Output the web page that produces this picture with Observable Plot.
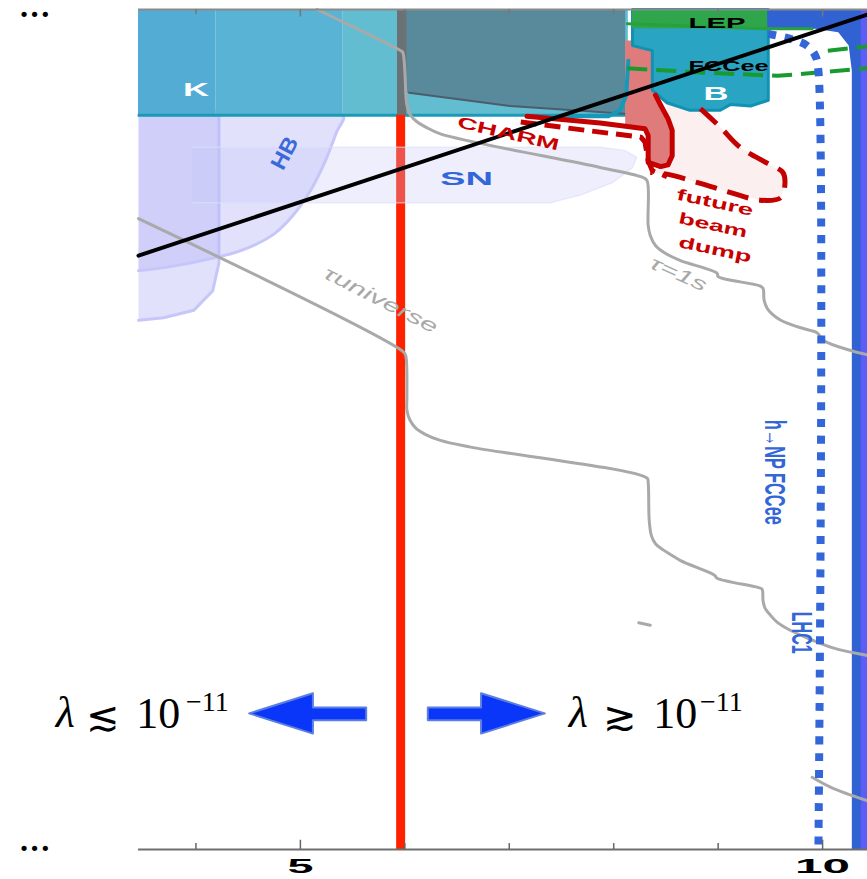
<!DOCTYPE html>
<html><head><meta charset="utf-8">
<script src="https://cdn.jsdelivr.net/npm/d3@7"></script>
<script src="https://cdn.jsdelivr.net/npm/@observablehq/plot@0.6"></script>
<style>body{margin:0;background:#fff}</style>
</head><body><div id="chart"></div>
<script>
// ---------- data (x: mass axis, y: arbitrary log-coupling units 0..10) ----------
const majorTicks = [5, 10];
const minorTicks = [4, 6, 7, 8, 9];
const yDots = [0, 9.93];

const hbStrip = [[3.45,8.74],[4.22,8.74],[4.22,6.98],[4.16,6.65],[3.98,6.42],[3.69,6.33],[3.45,6.30]];
const hbCurve = [[3.45,8.74],[5.41,8.74],[5.35,8.55],[5.24,8.20],[5.10,7.85],[4.93,7.55],[4.74,7.32],[4.43,7.13],[3.85,6.96],[3.45,6.89]];
const snRegion = [[3.97,8.36],[7.87,8.36],[8.11,8.32],[8.22,8.24],[8.18,8.12],[7.99,7.94],[7.68,7.79],[7.39,7.70],[3.97,7.70]];
const kBandX = [3.45, 4.19, 5.41, 8.14];
const kBandY = [8.74, 10];
const slate = [[5.98,10],[8.11,10],[8.11,8.76],[7.01,8.85],[6.04,9.01],[5.98,9.01]];
const slateEdge = [[6.04,9.01],[7.01,8.85],[8.11,8.76]];
const grayBarX = [5.93, 6.02];
const pinkRegion = [[8.11,9.63],[8.40,9.63],[8.40,8.98],[8.45,8.86],[8.52,8.70],[8.56,8.56],[8.56,8.26],[8.52,8.15],[8.45,8.13],[8.33,8.18],[8.33,8.50],[8.30,8.58],[8.11,8.61]];
const beamDump = [[8.50,8.92],[8.83,8.82],[9.02,8.60],[9.21,8.36],[9.47,8.17],[9.62,8.06],[9.64,7.94],[9.60,7.76],[9.40,7.73],[9.12,7.82],[8.83,7.93],[8.51,8.04],[8.35,8.06]];
const beamDumpInner = [[8.45,8.13],[8.52,8.15],[8.56,8.26],[8.56,8.56],[8.52,8.70]];
const charmSolid = [[7.17,8.73],[7.87,8.65],[8.30,8.58],[8.33,8.50],[8.33,8.18],[8.45,8.13],[8.52,8.15],[8.56,8.26],[8.56,8.56],[8.52,8.70],[8.45,8.86],[8.40,8.98]];
const charmDashed = [[7.11,8.66],[7.87,8.54],[8.26,8.48],[8.30,8.42],[8.33,8.20],[8.37,8.08],[8.51,8.01]];
const bRegion = [[8.18,10],[9.48,10],[9.48,8.92],[9.31,8.85],[9.12,8.87],[9.02,8.80],[8.73,8.80],[8.51,8.89],[8.37,9.04],[8.37,9.51],[8.18,9.57]];
const tealCurve = [[8.14,9.39],[8.12,8.98],[8.06,8.80],[7.95,8.73],[7.49,8.73]];
const lepBox = {x: [8.18, 9.48], y: [9.77, 10]};
const lepLine = [[8.13,9.83],[9.48,9.77],[9.90,9.77]];
const fccDash = [[8.13,9.30],[8.83,9.25],[9.57,9.21],[9.95,9.25],[10.43,9.30]];
const fccDash2 = [[10.05,9.51],[10.43,9.56]];
const blueRegion = [[9.47,10],[10.43,10],[10.43,0],[10.28,0],[10.28,9.27],[10.25,9.57],[10.15,9.73],[9.93,9.77],[9.47,9.77]];
const purpleStripX = [10.37, 10.43];
const lhcDotted = [[9.48,9.71],[9.69,9.65],[9.85,9.57],[9.93,9.45],[9.96,9.27],[9.96,0]];
const blackLine = [[3.45,7.07],[10.43,9.94]];
const redLine = {x: 5.96, y: [0, 8.74]};
const tauUniverse = [[3.45,7.51],[5.99,5.92],[6.01,5.87],[6.02,5.40],[6.02,5.23],[6.05,5.11],[6.11,5.01],[6.20,4.94],[6.34,4.87],[6.63,4.79],[8.32,4.42],[8.33,4.37],[8.34,3.92],[8.36,3.74],[8.40,3.64],[8.47,3.57],[8.56,3.50],[8.64,3.44],[8.93,3.29],[8.97,3.26],[8.99,3.23],[9.38,3.12],[9.42,3.10],[9.43,2.96],[9.45,2.87],[9.50,2.79],[9.57,2.70],[9.69,2.61],[9.85,2.52],[10.10,2.40],[10.43,2.31]];
const tau1s = [[5.16,10],[5.96,9.51],[5.98,9.49],[6.00,9.27],[6.01,8.98],[6.02,8.86],[6.05,8.75],[6.11,8.67],[6.20,8.60],[6.34,8.52],[7.87,8.12],[8.28,8.00],[8.32,7.96],[8.33,7.43],[8.35,7.31],[8.40,7.19],[8.49,7.10],[8.64,7.01],[8.99,6.86],[9.00,6.82],[9.40,6.71],[9.43,6.68],[9.44,6.54],[9.47,6.44],[9.52,6.37],[9.60,6.30],[9.74,6.23],[9.88,6.18],[9.95,6.15],[10.01,6.06],[10.27,5.94],[10.43,5.89]];
const tau3 = [[9.90,0.86],[10.08,0.74],[10.43,0.58]];
const tauFrag = [[8.24,2.70],[8.35,2.67]];
const leftArrow = [[4.51,1.62],[5.12,1.86],[5.12,1.69],[5.63,1.69],[5.63,1.54],[5.12,1.54],[5.12,1.38],[4.51,1.62]];
const rightArrow = [[7.34,1.62],[6.73,1.86],[6.73,1.69],[6.22,1.69],[6.22,1.54],[6.73,1.54],[6.73,1.38],[7.34,1.62]];

const labelText = ["K","HB","SN","CHARM","future","beam","dump","τ=1s","τuniverse","h→NP FCCee","LHC1","LEP","FCCee","B"];
const labelX =    [4.00, 4.85, 6.59, 6.99, 8.97, 8.95, 8.97, 8.62, 5.77, 9.54, 9.80, 8.99, 9.10, 8.98];
const labelY =    [9.04, 8.29, 7.98, 8.52, 7.70, 7.43, 7.14, 6.85, 6.54, 4.49, 2.58, 9.83, 9.32, 9.00];
const lambdaParts = ["λ", "≲", "10", "−11", "λ", "≳", "10", "−11"];
const lambdaX = [2.75, 3.11, 3.64, 4.11, 7.66, 8.06, 8.59, 9.03];
const lambdaY = [1.63, 1.57, 1.62, 1.75, 1.63, 1.57, 1.62, 1.75];

// ---------- helpers ----------
const P = (pts, o) => Plot.line(pts, {x: d => d[0], y: d => d[1], ...o});
const closed = pts => [...pts, pts[0]];
const lbl = (i, o) => Plot.text([i], {x: d => labelX[d], y: d => labelY[d], text: d => labelText[d],
  fontFamily: "Liberation Sans, Arial, sans-serif", fontWeight: "bold", textAnchor: "middle", lineAnchor: "middle", ...o});
const lam = (i, o) => Plot.text([i], {x: d => lambdaX[d], y: d => lambdaY[d], text: d => lambdaParts[d],
  fontFamily: "Liberation Serif, Times New Roman, serif", textAnchor: "middle", lineAnchor: "middle", fill: "#000", ...o});

const chart = Plot.plot({
  width: 867, height: 879,
  marginLeft: 138, marginRight: 0, marginTop: 9, marginBottom: 30,
  x: {domain: [3.45, 10.43]},
  y: {domain: [0, 10]},
  style: {background: "#fff", overflow: "visible"},
  marks: [
    // HB
    P(hbStrip, {fill: "#b4b4f8", fillOpacity: 0.4, stroke: "#c6c6fa", strokeWidth: 3}),
    P(hbCurve, {fill: "#b4b4f8", fillOpacity: 0.4, stroke: "#c6c6fa", strokeWidth: 3, curve: "catmull-rom"}),
    // K band
    Plot.rect([0], {x1: kBandX[0], x2: kBandX[1], y1: kBandY[0], y2: kBandY[1], fill: "#52acd3"}),
    Plot.rect([0], {x1: kBandX[1], x2: kBandX[2], y1: kBandY[0], y2: kBandY[1], fill: "#58b3d5"}),
    Plot.rect([0], {x1: kBandX[2], x2: kBandX[3], y1: kBandY[0], y2: kBandY[1], fill: "#63bdd0"}),
    Plot.ruleY([kBandY[0]], {x1: kBandX[0], x2: kBandX[3], stroke: "#1a9ab6", strokeWidth: 3}),
    // slate
    P(slate, {fill: "#588a9b"}),
    P(slateEdge, {stroke: "#4c5c6c", strokeWidth: 2}),
    Plot.rect([0], {x1: grayBarX[0], x2: grayBarX[1], y1: kBandY[0], y2: kBandY[1], fill: "#6a7276"}),
    // CHARM / beam dump fills
    P([...beamDump, ...beamDumpInner], {fill: "#fcefef"}),
    P(pinkRegion, {fill: "#e07b7b"}),
    // B and LEP
    P(closed(bRegion), {fill: "#29a4c3", stroke: "#1292b3", strokeWidth: 3}),
    Plot.rect([0], {x1: lepBox.x[0], x2: lepBox.x[1], y1: lepBox.y[0], y2: lepBox.y[1], fill: "#2fa64b"}),
    // blue right region
    P(blueRegion, {fill: "#3162d2"}),
    Plot.rect([0], {x1: purpleStripX[0], x2: purpleStripX[1], y1: 0, y2: 10, fill: "#5c5cf6"}),
    // red line
    Plot.ruleX([redLine.x], {y1: redLine.y[0], y2: redLine.y[1], stroke: "#ff2200", strokeWidth: 9}),
    // SN
    P(snRegion, {fill: "#c8c8f8", fillOpacity: 0.3, stroke: "#dedefa", strokeWidth: 1.5, strokeOpacity: 0.6}),
    // gray lifetime lines
    P(tauUniverse, {stroke: "#a9a9a9", strokeWidth: 3, curve: "catmull-rom"}),
    P(tau1s, {stroke: "#a9a9a9", strokeWidth: 3, curve: "catmull-rom"}),
    P(tau3, {stroke: "#a9a9a9", strokeWidth: 3, curve: "catmull-rom"}),
    P(tauFrag, {stroke: "#a9a9a9", strokeWidth: 3}),
    // CHARM lines
    P(tealCurve, {stroke: "#1599b8", strokeWidth: 4}),
    P(charmSolid, {stroke: "#c40000", strokeWidth: 5, strokeLinejoin: "round"}),
    P(charmDashed, {stroke: "#c40000", strokeWidth: 5, strokeDasharray: "16,8", strokeLinecap: "butt"}),
    P(beamDump.slice(1), {stroke: "#c40000", strokeWidth: 5, strokeDasharray: "22,11", strokeLinecap: "butt", curve: "catmull-rom"}),
    // green lines
    P(lepLine, {stroke: "#27a03e", strokeWidth: 3}),
    P(fccDash, {stroke: "#179a2e", strokeWidth: 4, strokeDasharray: "20,9", strokeLinecap: "butt"}),
    P(fccDash2, {stroke: "#179a2e", strokeWidth: 4, strokeDasharray: "20,9", strokeLinecap: "butt"}),
    // dotted blue line
    P(lhcDotted, {stroke: "#3366d8", strokeWidth: 8, strokeDasharray: "8,8.7", strokeLinecap: "butt", curve: "catmull-rom"}),
    // black line
    P(blackLine, {stroke: "#000", strokeWidth: 4}),
    // arrows
    P(leftArrow, {fill: "#0a36fa", stroke: "#5b7ee0", strokeWidth: 2}),
    P(rightArrow, {fill: "#0a36fa", stroke: "#5b7ee0", strokeWidth: 2}),
    // frame / axes
    Plot.ruleY([0], {stroke: "#6e6e6e", strokeWidth: 2}),
    Plot.ruleY([10], {stroke: "#8a8a8a", strokeWidth: 2}),
    Plot.ruleX(minorTicks, {y1: 0, y2: 0.07, stroke: "#666", strokeWidth: 1.5}),
    Plot.ruleX(majorTicks, {y1: 0, y2: 0.11, stroke: "#666", strokeWidth: 1.5}),
    Plot.ruleX(minorTicks, {y1: 9.94, y2: 10, stroke: "#777", strokeWidth: 1.5}),
    Plot.ruleX(majorTicks, {y1: 9.91, y2: 10, stroke: "#777", strokeWidth: 1.5}),
    Plot.axisX({ticks: majorTicks, tickSize: 0, tickPadding: 9, fontSize: 21, fontWeight: "bold",
      fontFamily: "Liberation Sans, Arial, sans-serif", tickFormat: d => String(d)}),
    Plot.axisY({ticks: yDots, tickSize: 0, tickPadding: 88, fontSize: 18, fontFamily: "DejaVu Sans",
      tickFormat: () => "•••"}),
    // labels
    lbl(0, {fill: "#fff", fontSize: 18}),
    lbl(1, {fill: "#3a6ad8", fontSize: 22, rotate: -62}),
    lbl(2, {fill: "#3366d6", fontSize: 18}),
    lbl(3, {fill: "#c80000", fontSize: 16, rotate: 13}),
    lbl(4, {fill: "#c80000", fontSize: 16, rotate: 12}),
    lbl(5, {fill: "#c80000", fontSize: 16, rotate: 12}),
    lbl(6, {fill: "#c80000", fontSize: 16, rotate: 12}),
    lbl(7, {fill: "#a8a8a8", fontSize: 19, rotate: 24, fontStyle: "italic", fontWeight: "normal"}),
    lbl(8, {fill: "#a8a8a8", fontSize: 19, rotate: 27, fontStyle: "italic", fontWeight: "normal"}),
    lbl(9, {fill: "#3366d6", fontSize: 29, rotate: 90}),
    lbl(10, {fill: "#3366d6", fontSize: 29, rotate: 90}),
    lbl(11, {fill: "#000", fontSize: 14}),
    lbl(12, {fill: "#000", fontSize: 14}),
    lbl(13, {fill: "#fff", fontSize: 19}),
    // lambda annotations
    lam(0, {fontSize: 44, fontStyle: "italic"}),
    lam(1, {fontSize: 40}),
    lam(2, {fontSize: 44}),
    lam(3, {fontSize: 28}),
    lam(4, {fontSize: 44, fontStyle: "italic"}),
    lam(5, {fontSize: 40}),
    lam(6, {fontSize: 44}),
    lam(7, {fontSize: 28})
  ]
});

// stretch labels to the widths of the reference's extended / condensed faces
const lens = {"K": 26, "HB": 34, "SN": 53, "CHARM": 104, "future": 78, "beam": 70, "dump": 74,
  "τ=1s": 60, "τuniverse": 125, "h→NP FCCee": 105, "LHC1": 42, "LEP": 57, "FCCee": 80, "B": 25};
d3.select(chart).selectAll("text").each(function() {
  const L = lens[this.textContent];
  if (L) { this.setAttribute("textLength", L); this.setAttribute("lengthAdjust", "spacingAndGlyphs"); }
});
const axisLens = {"5": 26, "10": 55};
d3.select(chart).selectAll('g[aria-label="x-axis tick label"] text').each(function() {
  const L = axisLens[this.textContent];
  if (L) { this.setAttribute("textLength", L); this.setAttribute("lengthAdjust", "spacingAndGlyphs"); }
});
document.getElementById("chart").appendChild(chart);
</script>
</body></html>
